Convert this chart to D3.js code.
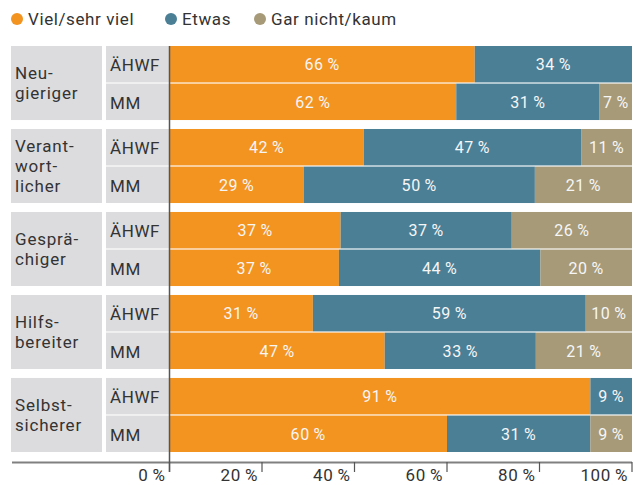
<!DOCTYPE html>
<html><head><meta charset="utf-8">
<script src="https://cdn.jsdelivr.net/npm/d3@7"></script>
<style>
body{margin:0;background:#fff;}
text{font-family:Roboto,"DejaVu Sans",sans-serif;}
</style></head>
<body><svg id="c" width="635" height="485"></svg>
<script>
const groups = ["Neu-|gieriger","Verant-|wort-|licher","Gesprä-|chiger","Hilfs-|bereiter","Selbst-|sicherer"];
const subs = ["ÄHWF","MM"];
const series = ["Viel/sehr viel","Etwas","Gar nicht/kaum"];
const viel  = [66,62, 42,29, 37,37, 31,47, 91,60];
const etwas = [34,31, 47,50, 37,44, 59,33, 9,31];
const gar   = [0,7,   11,21, 26,20, 10,21, 0,9];
const ticks = [0,20,40,60,80,100];
const colors = ["#f39320","#4a7f96","#a69a78"];

const svg = d3.select("#c");
const x = d3.scaleLinear().domain([0,100]).range([169.5,632]);
const gTop = d3.scaleBand().domain(d3.range(groups.length)).range([46,452]).paddingInner(0.108).paddingOuter(0);
const rowH = gTop.bandwidth();
const inner = d3.scaleBand().domain([0,1]).range([0,rowH]).paddingInner(0.03);

// legend
let lx = [17,171,260];
series.forEach((s,i)=>{
  svg.append("circle").attr("cx",lx[i]).attr("cy",19).attr("r",6).attr("fill",colors[i]);
  svg.append("text").attr("x",lx[i]+11).attr("y",25).attr("font-size",17).attr("fill","#333").attr("letter-spacing",0.6).text(s);
});

const rows = [];
groups.forEach((g,gi)=>{
  subs.forEach((s,si)=>{
    const k = gi*2+si;
    rows.push({g:gi,s:si,vals:[viel[k],etwas[k],gar[k]]});
  });
});

// group label boxes
groups.forEach((g,gi)=>{
  const y0 = gTop(gi);
  svg.append("rect").attr("x",11).attr("y",y0).attr("width",91).attr("height",rowH).attr("fill","#dcdcde");
  const lines = g.split("|");
  const cy = y0+rowH/2;
  const lh = 20;
  lines.forEach((l,li)=>{
    svg.append("text").attr("x",15).attr("y",cy+6+(li-(lines.length-1)/2)*lh)
      .attr("font-size",17).attr("fill","#333").attr("letter-spacing",0.8).text(l);
  });
});

rows.forEach(r=>{
  const y0 = gTop(r.g)+inner(r.s);
  const h = inner.bandwidth();
  svg.append("rect").attr("x",106).attr("y",y0).attr("width",63).attr("height",h).attr("fill","#dcdcde");
  svg.append("text").attr("x",110).attr("y",y0+h/2+7).attr("font-size",17).attr("fill","#333").attr("letter-spacing",0.6).text(subs[r.s]);
  const tot = d3.sum(r.vals);
  let acc = 0;
  r.vals.forEach((v,i)=>{
    if(v<=0) return;
    const a = acc/tot*100, b=(acc+v)/tot*100;
    acc+=v;
    svg.append("rect").attr("x",x(a)).attr("y",y0).attr("width",x(b)-x(a)).attr("height",h).attr("fill",colors[i]);
    svg.append("text").attr("x",(x(a)+x(b))/2).attr("y",y0+h/2+6).attr("text-anchor","middle")
      .attr("font-size",16).attr("fill","#f6f6f6").attr("letter-spacing",0.6).text(v+"\u2009%");
  });
});

// axes
svg.append("line").attr("x1",12).attr("x2",632).attr("y1",462.5).attr("y2",462.5).attr("stroke","#808080").attr("stroke-width",2);
svg.append("line").attr("x1",169.5).attr("x2",169.5).attr("y1",46).attr("y2",472).attr("stroke","#555").attr("stroke-width",1.5);
ticks.forEach(t=>{
  svg.append("line").attr("x1",x(t)).attr("x2",x(t)).attr("y1",462).attr("y2",472).attr("stroke","#555").attr("stroke-width",1.2);
  svg.append("text").attr("x",x(t)-4).attr("y",481).attr("text-anchor","end").attr("font-size",17).attr("fill","#333").attr("letter-spacing",0.6).text(t+"\u2009%");
});
</script></body></html>
